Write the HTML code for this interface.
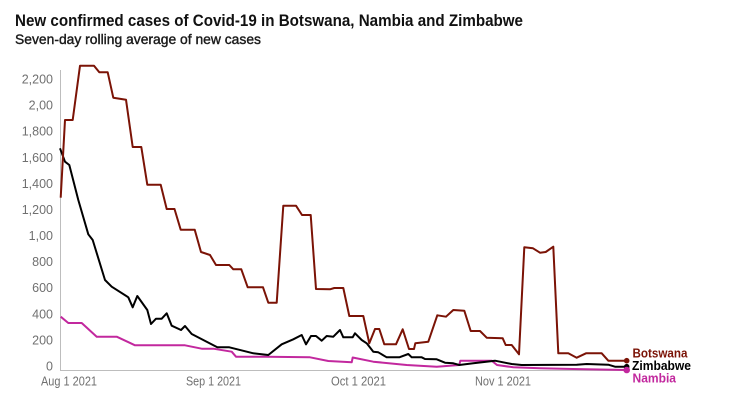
<!DOCTYPE html>
<html><head><meta charset="utf-8"><style>
html,body{margin:0;padding:0;background:#fff;}
svg{display:block;}
text{font-family:"Liberation Sans",sans-serif;}
</style></head><body>
<svg width="740" height="400" viewBox="0 0 740 400" xmlns="http://www.w3.org/2000/svg">
<rect width="740" height="400" fill="#fff"/>
<text x="15" y="26" font-size="17" font-weight="bold" fill="#111" textLength="508" lengthAdjust="spacingAndGlyphs">New confirmed cases of Covid-19 in Botswana, Nambia and Zimbabwe</text>
<text x="15" y="44" font-size="14" fill="#1a1a1a" stroke="#1a1a1a" stroke-width="0.4" textLength="246" lengthAdjust="spacingAndGlyphs">Seven-day rolling average of new cases</text>
<g font-size="12.5" fill="#707070" text-anchor="end">
<text x="53" y="370.5">0</text>
<text x="53" y="344.4">200</text>
<text x="53" y="318.3">400</text>
<text x="53" y="292.2">600</text>
<text x="53" y="266.1">800</text>
<text x="53" y="240.0">1,00</text>
<text x="53" y="214.0">1,200</text>
<text x="53" y="187.9">1,400</text>
<text x="53" y="161.8">1,600</text>
<text x="53" y="135.7">1,800</text>
<text x="53" y="109.6">2,00</text>
<text x="53" y="83.5">2,200</text>
</g>
<g font-size="12.5" fill="#707070">
<text x="41" y="385.5" textLength="56" lengthAdjust="spacingAndGlyphs">Aug 1 2021</text>
<text x="186" y="385.5" textLength="55" lengthAdjust="spacingAndGlyphs">Sep 1 2021</text>
<text x="331" y="385.5" textLength="55" lengthAdjust="spacingAndGlyphs">Oct 1 2021</text>
<text x="475" y="385.5" textLength="56" lengthAdjust="spacingAndGlyphs">Nov 1 2021</text>
</g>
<line x1="60.5" y1="70" x2="60.5" y2="370.5" stroke="#bdbdbd" stroke-width="1"/>
<line x1="60" y1="370.5" x2="627" y2="370.5" stroke="#bdbdbd" stroke-width="1"/>
<g fill="none" stroke-width="2" stroke-linejoin="round">
<path stroke="#c2289e" d="M60.7,316.7 L68.3,323 L81.7,323 L96.7,336.7 L116.7,336.7 L135,345.3 L185,345.3 L201.7,348.7 L213.3,348.7 L231.7,351.7 L236,356.7 L266.7,356.7 L310,357.3 L328.3,361 L351.7,362.3 L352.7,357.5 L373.3,361.7 L406.7,365 L436.7,366.7 L459.3,365 L460.3,360.7 L491.7,360.7 L497,365 L513.3,367.3 L540,368.3 L573,369 L626.7,370"/>
<path stroke="#000" d="M60,148.3 L65,161.7 L69.3,165 L78.3,200 L88.3,234.3 L92.7,240 L105,280 L111.7,286.7 L128.3,297.3 L132.7,307.3 L137.3,296 L147.3,310 L151,324 L156,318.7 L161.7,318.7 L166.7,313.3 L171.7,325.7 L181,330 L185,326 L191.7,334 L217.3,347.3 L229.3,347.3 L253.3,353.3 L268.3,355 L281.7,344.3 L293.3,339.3 L301.7,335 L306,344.3 L311,336 L316,336 L321.7,340.7 L326.7,336 L333.3,336.7 L340,330 L343.3,337.3 L352.7,337.3 L355,333.3 L361.7,340 L366.7,343.3 L373.3,351.7 L378.3,352.3 L386.7,357.3 L399.3,357.3 L408.3,354 L411.7,357.3 L421.7,357.3 L425,359 L436.7,359.3 L445,362.7 L453.3,363.3 L459.3,365 L473.3,363.3 L495,360.7 L511.7,364 L521.7,365 L576.7,364.7 L586.7,364 L608.3,364.7 L615,366.7 L626.7,366.7"/>
<path stroke="#7b1306" d="M60.7,197.7 L65,120 L72.7,120 L80,65.7 L94,65.7 L99.3,72.3 L107.7,72.3 L113.3,97.7 L126,99.7 L132.7,147 L141.3,147 L147.3,184.7 L160.7,184.7 L166.7,209 L174.5,209 L180.7,229.7 L194.7,229.7 L201,252 L210,255 L216,265 L229.3,265 L233.3,269.3 L241.3,269.3 L247.7,287.3 L263,287.3 L268.3,302.7 L276.7,302.7 L283.3,205.7 L296,205.7 L302,215 L310.7,215 L316,289 L330,289.3 L334.3,288 L343.3,288 L349.3,316 L363.3,316 L369.3,343.3 L375,329 L379.3,329 L384.3,344.3 L396,344.3 L402.7,329.3 L409,349 L414,349 L415.3,343.3 L428.3,341.7 L437.3,315.3 L446,316.7 L453.3,310 L464.3,310.7 L470.7,331 L480,331 L486.7,337.7 L502.7,338.3 L505.7,345 L511.7,345 L519,354.3 L524.3,247.3 L533,248.3 L540,252.7 L545.7,252 L553.3,246.7 L558.3,353.3 L568.3,353.3 L576.7,357.7 L586,353.3 L601.7,353.3 L608.3,360.7 L626.7,360.7"/>
</g>
<circle cx="626.7" cy="360.7" r="2.8" fill="#7b1306"/>
<circle cx="626.7" cy="366.7" r="2.8" fill="#000"/>
<circle cx="626.7" cy="370" r="3.3" fill="#c2289e"/>
<g font-size="13" font-weight="bold">
<text x="632.5" y="357.7" fill="#7b1306" textLength="55" lengthAdjust="spacingAndGlyphs">Botswana</text>
<text x="632" y="370.2" fill="#000" textLength="59" lengthAdjust="spacingAndGlyphs">Zimbabwe</text>
<text x="632.5" y="382.7" fill="#c2289e" textLength="43.5" lengthAdjust="spacingAndGlyphs">Nambia</text>
</g>
</svg>
</body></html>
